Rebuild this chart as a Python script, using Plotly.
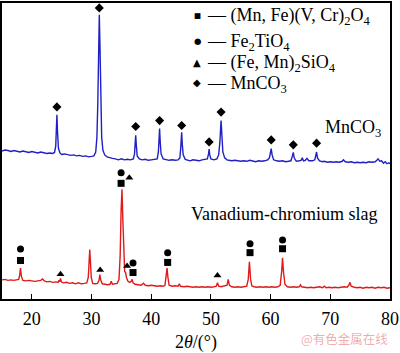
import plotly.graph_objects as go

# ---------------- data (2θ in degrees, intensity in arbitrary units) ----------------
mnco3_two_theta = [15.0, 15.5, 16.0, 16.5, 17.0, 17.5, 18.0, 18.5, 19.0, 19.5, 20.0, 20.5, 21.0, 21.5, 22.0,
                   22.5, 23.0, 23.5, 23.8, 24.0, 24.1, 24.2, 24.3, 24.45, 24.7, 25.0, 25.5, 26.0, 26.5, 27.0,
                   27.5, 28.0, 28.5, 29.0, 29.5, 30.0, 30.4, 30.7, 30.9, 31.05, 31.2, 31.3, 31.4, 31.55, 31.7,
                   31.9, 32.2, 32.6, 33.0, 33.5, 34.0, 34.5, 35.0, 35.5, 36.0, 36.5, 37.0, 37.2, 37.3, 37.4,
                   37.5, 37.65, 38.0, 38.5, 39.0, 39.5, 40.0, 40.5, 41.0, 41.2, 41.3, 41.4, 41.5, 41.65, 42.0,
                   42.5, 43.0, 43.5, 44.0, 44.5, 44.8, 44.95, 45.1, 45.2, 45.35, 45.7, 46.0, 46.5, 47.0, 47.5,
                   48.0, 48.5, 49.0, 49.4, 49.6, 49.7, 49.8, 50.0, 50.5, 51.0, 51.3, 51.5, 51.7, 51.85, 52.0,
                   52.3, 52.7, 53.0, 53.5, 54.0, 54.5, 55.0, 55.5, 56.0, 56.5, 57.0, 57.5, 58.0, 58.5, 59.0,
                   59.5, 59.8, 60.0, 60.1, 60.25, 60.5, 61.0, 61.5, 62.0, 62.5, 63.0, 63.4, 63.65, 63.8, 63.95,
                   64.3, 64.8, 65.1, 65.3, 65.5, 65.8, 66.1, 66.4, 67.0, 67.4, 67.6, 67.7, 67.85, 68.2, 68.7,
                   69.0, 69.5, 70.0, 70.5, 71.0, 71.5, 72.0, 72.2, 72.5, 73.0, 73.5, 74.0, 74.5, 75.0, 75.5,
                   76.0, 76.5, 77.0, 77.5, 77.8, 78.0, 78.3, 78.6, 78.9, 79.2, 79.5, 79.8, 80.0]
mnco3_intensity = [151, 152, 151.5, 150.5, 151.5, 151, 150, 151, 150.5, 149.5, 150.5, 150, 149, 150, 149,
                   148.5, 149, 148.5, 149.5, 156, 172, 188, 171, 154, 149, 147.5, 148, 147, 146.5, 147,
                   146, 146.5, 145.5, 146, 145, 145.5, 146, 150, 165, 200, 260, 290, 262, 200, 165,
                   152, 147, 145, 144, 143.5, 143, 142, 143, 142, 142.5, 142, 143, 148, 158, 167,
                   157, 146, 143, 142, 142.5, 141.5, 142, 142.5, 143, 150, 162, 174, 161, 148, 143,
                   142, 141.5, 142, 141.5, 142, 144, 155, 170, 158, 147, 142.5, 142, 141, 142, 141.5,
                   141, 142, 142.5, 143, 148, 153, 147, 143, 142, 143, 147, 160, 182, 162, 150,
                   144, 142, 141.5, 141, 141.5, 141, 140.5, 141, 140.5, 141.5, 140.5, 140, 141, 140.5, 141,
                   142, 144, 150, 153.5, 147, 142, 141, 140.5, 141, 140, 140.5, 141, 146, 149.5, 144,
                   140.5, 141, 141.5, 144, 141, 141.5, 143.5, 141, 141, 142, 147, 150, 144, 141, 140,
                   140.5, 139.5, 140, 139.5, 140, 139.5, 140.5, 142, 140, 139.5, 140, 139, 139.5, 139, 139.5,
                   139, 140, 139.5, 140, 141.5, 143, 140.5, 141, 138.5, 140, 138, 139, 138]

slag_two_theta = [15.0, 15.5, 16.0, 16.5, 17.0, 17.5, 17.8, 17.95, 18.1, 18.25, 18.5, 19.0, 19.5, 20.0, 20.5,
                  21.0, 21.5, 21.8, 22.1, 22.5, 23.0, 23.5, 24.0, 24.4, 24.55, 24.65, 24.8, 24.95, 25.3, 25.8,
                  26.3, 26.8, 27.3, 27.8, 28.3, 28.8, 29.2, 29.45, 29.6, 29.7, 29.8, 29.95, 30.2, 30.6, 31.0,
                  31.25, 31.4, 31.55, 31.8, 32.2, 32.7, 33.1, 33.3, 33.5, 33.9, 34.3, 34.6, 34.8, 34.95, 35.1,
                  35.25, 35.4, 35.55, 35.7, 35.85, 36.1, 36.4, 36.65, 36.8, 36.95, 37.3, 37.8, 38.3, 38.7, 39.0,
                  39.5, 40.0, 40.5, 41.0, 41.5, 42.0, 42.3, 42.5, 42.65, 42.8, 43.0, 43.5, 44.0, 44.5, 44.7,
                  44.9, 45.5, 46.0, 46.5, 47.0, 47.5, 48.0, 48.5, 49.0, 49.5, 50.0, 50.5, 50.9, 51.1, 51.3,
                  51.7, 52.2, 52.7, 52.9, 53.1, 53.5, 54.0, 54.5, 55.0, 55.5, 56.0, 56.25, 56.45, 56.65, 56.85,
                  57.2, 57.7, 58.2, 58.7, 59.2, 59.7, 60.2, 60.7, 61.2, 61.6, 61.85, 62.0, 62.15, 62.4, 62.8,
                  63.3, 63.8, 64.3, 64.8, 65.0, 65.2, 65.7, 66.2, 66.7, 67.2, 67.7, 68.2, 68.7, 69.0, 69.3,
                  69.8, 70.3, 70.8, 71.3, 71.8, 72.3, 72.8, 73.1, 73.3, 73.5, 74.0, 74.5, 75.0, 75.5, 76.0,
                  76.5, 77.0, 77.5, 78.0, 78.5, 79.0, 79.5, 80.0]
slag_intensity = [19.5, 20, 19, 19.5, 19, 19.5, 20, 24, 31.5, 23, 19, 18.5, 19, 18.5, 18,
                  18.5, 19, 20.5, 18.5, 17.5, 18, 17, 17.5, 17, 19, 17.5, 21, 17.5, 16.5, 17,
                  16, 16.5, 15.5, 16.5, 15.5, 16, 16.5, 22, 40, 50.5, 40, 22, 16, 15.5, 16,
                  19, 25, 19, 15.5, 15, 14.5, 15, 18, 15, 15.5, 16, 20, 45, 90, 112,
                  80, 40, 28, 27, 22, 18, 17, 18, 20, 16.5, 15, 14.5, 14, 16, 14,
                  13.5, 14, 13.5, 13, 13.5, 13, 14, 22, 31.5, 22, 14, 13, 13.5, 13, 15.5,
                  13, 12.5, 13, 12.5, 12, 12.5, 12, 12.5, 12, 12.5, 12, 12.5, 13, 16.5, 13,
                  12.5, 13, 14, 20, 14, 12.5, 12, 12.5, 12, 12.5, 13, 20, 38, 20, 13.5,
                  12.5, 12, 12.5, 12, 12.5, 12, 12.5, 12, 12.5, 14, 28, 42, 28, 15, 12.5,
                  12, 12.5, 12, 12.5, 14.5, 12.5, 12, 11.5, 12, 11.5, 12, 12.5, 11.5, 13, 11.5,
                  12, 11.5, 12, 11.5, 12, 12.5, 12, 14, 17, 13, 12, 11.5, 12, 11, 12,
                  11.5, 12, 11, 12, 11.5, 12, 11, 11.5]

# phase markers (2θ, marker height)
spinel_x = [18.1, 34.95, 36.95, 42.75, 56.55, 62.0]
spinel_y = [39.3, 118, 27, 37.3, 47.3, 51.3]
fe2tio4_x = [18.1, 34.95, 36.95, 42.75, 56.55, 62.0]
fe2tio4_y = [51, 128.7, 36.7, 47.3, 56.3, 60.3]
olivine_x = [24.8, 31.45, 36.33, 35.95, 51.1]
olivine_y = [25.3, 29.7, 123.7, 33.7, 24]
mnco3_peak_x = [24.2, 31.3, 37.4, 41.4, 45.1, 49.7, 51.7, 60.1, 63.8, 67.7]
mnco3_peak_y = [196, 297, 176, 182, 177, 160.3, 190.7, 162.3, 157.3, 159]

legend_symbols = ["■", "●", "▲", "◆"]
legend_names = ["(Mn, Fe)(V, Cr)<sub>2</sub>O<sub>4</sub>",
                "Fe<sub>2</sub>TiO<sub>4</sub>",
                "(Fe, Mn)<sub>2</sub>SiO<sub>4</sub>",
                "MnCO<sub>3</sub>"]
x_ticks = [20, 30, 40, 50, 60, 70, 80]

FONT = "Liberation Serif"

fig = go.Figure()
fig.add_trace(go.Scatter(x=mnco3_two_theta, y=mnco3_intensity, mode="lines",
                         line=dict(color="#1f1fc4", width=1.4), showlegend=False, hoverinfo="skip"))
fig.add_trace(go.Scatter(x=slag_two_theta, y=slag_intensity, mode="lines",
                         line=dict(color="#e01a1a", width=1.4), showlegend=False, hoverinfo="skip"))

for xs, ys, sym, name in [(spinel_x, spinel_y, "square", legend_names[0]),
                          (fe2tio4_x, fe2tio4_y, "circle", legend_names[1]),
                          (olivine_x, olivine_y, "triangle-up", legend_names[2]),
                          (mnco3_peak_x, mnco3_peak_y, "diamond", legend_names[3])]:
    fig.add_trace(go.Scatter(x=xs, y=ys, mode="markers", name=name, showlegend=False,
                             marker=dict(symbol=sym, size=7, color="black")))

# legend drawn as text: symbol glyph + "— phase name"
legend_symbol_y = [0.959, 0.871, 0.800, 0.730]
legend_symbol_size = [7.5, 8.5, 10, 10]
legend_text_y = [0.953, 0.865, 0.794, 0.725]
for sym, name, ys, ss, yt in zip(legend_symbols, legend_names, legend_symbol_y, legend_symbol_size,
                                 legend_text_y):
    fig.add_annotation(xref="paper", yref="paper", x=0.5026, y=ys, xanchor="center", yanchor="middle",
                       text=sym, showarrow=False,
                       font=dict(family="DejaVu Sans", size=ss, color="black"))
    fig.add_annotation(xref="paper", yref="paper", x=0.524, y=yt, xanchor="left", yanchor="middle",
                       text=f"— {name}", showarrow=False,
                       font=dict(family=FONT, size=18, color="black"))

fig.add_annotation(x=73.75, y=174, text="MnCO<sub>3</sub>", showarrow=False,
                   font=dict(family=FONT, size=18, color="black"))
fig.add_annotation(x=62.25, y=86.3, text="Vanadium-chromium slag", showarrow=False,
                   font=dict(family=FONT, size=18, color="black"))
fig.add_annotation(xref="paper", yref="paper", x=1.0, y=-0.135, xanchor="right", yanchor="middle",
                   text="@有色金属在线", showarrow=False,
                   font=dict(family="Noto Sans CJK SC", size=12.5, color="rgba(228,120,120,0.6)"))

fig.update_layout(
    width=400, height=353,
    margin=dict(l=2, r=8, t=1, b=50),
    paper_bgcolor="white", plot_bgcolor="white",
    font=dict(family=FONT, size=18, color="black"),
    showlegend=False,
    xaxis=dict(range=[15, 80], tickvals=x_ticks, ticks="inside", ticklen=5, tickwidth=1.2,
               tickcolor="black", showline=True, linecolor="black", linewidth=1.5, mirror=True,
               showgrid=False, zeroline=False, ticklabeloverflow="allow", ticklabelstandoff=3,
               title=dict(text="2<i>θ</i>/(°)", font=dict(family=FONT, size=18), standoff=10),
               tickfont=dict(family=FONT, size=18)),
    yaxis=dict(range=[0, 302], showticklabels=False, ticks="", showline=True, linecolor="black",
               linewidth=1.5, mirror=True, showgrid=False, zeroline=False),
)

fig.write_html("out.html")
